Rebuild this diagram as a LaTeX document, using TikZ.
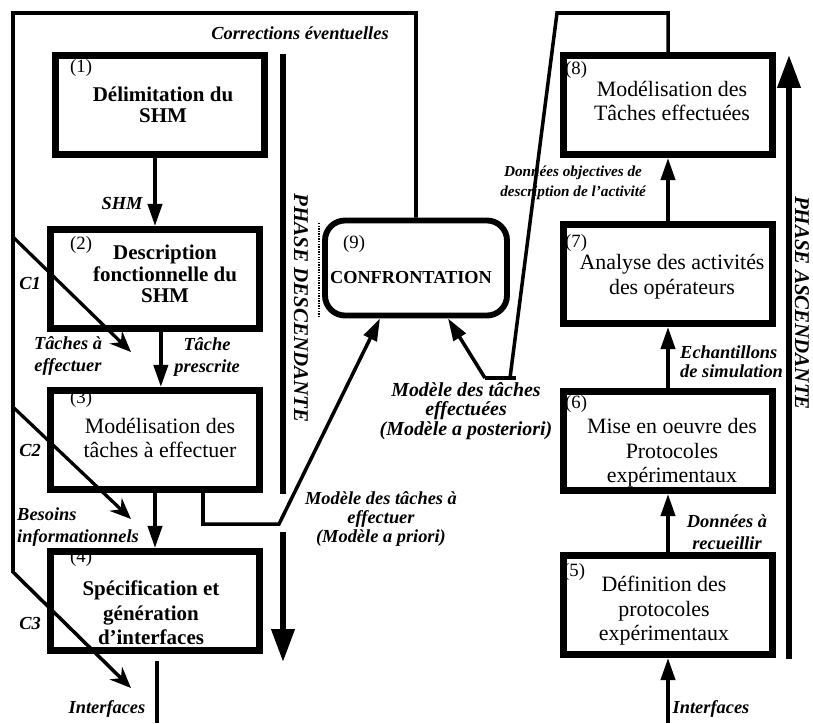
\documentclass[tikz,border=0pt]{standalone}
\usepackage{fontspec}
\setmainfont{Liberation Serif}
\usetikzlibrary{arrows.meta}
\usetikzlibrary{calc}

\begin{document}
\begin{tikzpicture}[x=0.03cm, y=-0.03cm, line join=miter,
    box/.style={draw, line width=5.5pt, minimum width=6.27cm, minimum height=2.98cm, inner sep=0pt},
    conf/.style={draw, line width=5pt, rounded corners=0.6cm, minimum width=5.46cm, minimum height=2.85cm, inner sep=0pt},
    num/.style={anchor=west, inner sep=0pt, font=\fontsize{16}{16}\selectfont},
    boxrm/.style={align=center, inner sep=0pt, font=\fontsize{18.7}{21}\selectfont},
    boxbf/.style={align=center, inner sep=0pt, font=\fontsize{17.9}{18.5}\selectfont\bfseries},
    lbl/.style={align=center, inner sep=0pt, font=\fontsize{15.7}{18.5}\selectfont\bfseries\itshape},
    phase/.style={rotate=-90, inner sep=0pt, font=\fontsize{17.9}{18}\selectfont\bfseries\itshape},
    flow/.style={line width=3.4pt, -{Triangle[length=19pt,width=12pt]}},
    fb/.style={line width=3pt},
    carrow/.style={line width=2.8pt, -{Stealth[length=18pt,width=15pt,inset=6pt]}},
    bar/.style={line width=5pt}]

    %\draw [help lines] (0,0) grid (813,723);
    \useasboundingbox (0,0) rectangle (813,723);

    % boites
    \path   (160,105) node (b1) [box] {}
            (155,279) node (b2) [box] {}
            (155,440) node (b3) [box] {}
            (155,601) node (b4) [box] {}
            (668,605) node (b5) [box] {}
            (668,441) node (b6) [box] {}
            (668,274) node (b7) [box] {}
            (668,105) node (b8) [box] {}
            (416,268) node (b9) [conf] {};

    % numeros
    \path   (70,68)  node (n1) [num] {(1)}
            (70,245) node (n2) [num] {(2)}
            (70,399) node (n3) [num] {(3)}
            (70,558) node (n4) [num] {(4)}
            (563,572) node (n5) [num] {(5)}
            (565,404) node (n6) [num] {(6)}
            (565,243) node (n7) [num] {(7)}
            (565,70) node (n8) [num] {(8)}
            (343,244) node (n9) [num] {(9)};

    % textes des boites
    \path   (163,105) node (t1) [boxbf, font=\fontsize{17.9}{17.5}\selectfont\bfseries] {Délimitation du\\SHM}
            (165,274) node (t2) [boxbf] {Description\\fonctionnelle du\\SHM}
            (160,438) node (t3) [boxrm] {Modélisation des\\tâches à effectuer}
            (151,613) node (t4) [boxbf, font=\fontsize{17.9}{21}\selectfont\bfseries] {Spécification et\\génération\\d'interfaces}
            (664,611) node (t5) [boxrm] {Définition des\\protocoles\\expérimentaux}
            (672,453) node (t6) [boxrm] {Mise en oeuvre des\\Protocoles\\expérimentaux}
            (672,277) node (t7) [boxrm] {Analyse des activités\\des opérateurs}
            (672,101) node (t8) [boxrm] {Modélisation des\\Tâches effectuées}
            (411,278) node (t9) [inner sep=0pt, font=\fontsize{15.6}{16}\selectfont\bfseries] {CONFRONTATION};

    % phases
    \node (pd) [phase] at (301,308) {PHASE DESCENDANTE};
    \node (pa) [phase] at (802,303) {PHASE ASCENDANTE};
    \coordinate (pd1) at (283,54);
    \coordinate (pd2) at (283,494);
    \coordinate (pd3) at (283,532);
    \coordinate (pd4) at (283,662);
    \coordinate (pa1) at (789,659);
    \coordinate (pa2) at (789,55);
    \draw[bar] (pd1) -- (pd2);
    \draw[bar, -{Triangle[length=28pt,width=19pt]}] (pd3) -- (pd4);
    \draw[bar, -{Triangle[length=28pt,width=19pt]}] (pa1) -- (pa2);
    \draw[densely dotted, line width=1.2pt] (319,223) -- (319,317);

    % fleches entre boites
    \coordinate (if1) at (157,723);
    \coordinate (if2) at (668,723);
    \draw[flow] (b2.north |- b1.south) -- (b2.north);
    \draw[flow] ([xshift=5pt]b2.south) -- ([xshift=5pt]b3.north);
    \draw[flow] (b3.south) -- (b4.north);
    \draw[line width=3pt] ([yshift=-6pt]b4.south -| if1) -- (if1);
    \draw[flow] (if2) -- (b5.south);
    \draw[flow] (b5.north) -- (b6.south);
    \draw[flow] (b6.north) -- (b7.south);
    \draw[flow] (b7.north) -- (b8.south);

    % boucle des corrections
    \coordinate (k1) at (13,13);
    \coordinate (k2) at (13,572);
    \coordinate (k3) at (13,237);
    \coordinate (k4) at (13,407);
    \coordinate (c1) at (131,352);
    \coordinate (c2) at (131,519);
    \coordinate (c3) at (131,688);
    \draw[fb, -{Stealth[length=18pt,width=15pt,inset=6pt]}] (b9.north) |- (k1) -- (k2) -- (c3);
    \draw[carrow] (k3) -- (c1);
    \draw[carrow] (k4) -- (c2);

    % modeles
    \coordinate (m1) at (279,524);
    \draw[fb, -{Triangle[length=19pt,width=12pt]}] ($(b3.south)+(48,0)$) |- (m1) -- ($(b9.south)+(-36,0)$);
    \coordinate (p1) at (557,13);
    \coordinate (p2) at (510,378);
    \coordinate (p3) at (485,378);
    \coordinate (p4) at (516,378);
    \draw[fb] (b8.north) |- (p1) -- (p2);
    \draw[fb] (p3) -- (p4);
    \draw[fb, -{Triangle[length=19pt,width=12pt]}] (p3) -- ($(b9.south)+(32,0)$);

    % etiquettes
    \path   (300,33)  node (l1) [lbl] {Corrections éventuelles}
            (122,203) node (l2) [lbl] {SHM}
            (68,356)  node (l3) [lbl] {Tâches à\\effectuer}
            (207,357) node (l4) [lbl] {Tâche\\prescrite}
            (17,527)  node (l5) [lbl, anchor=west, align=left] {Besoins\\informationnels}
            (107,709) node (l6) [lbl] {Interfaces}
            (711,709) node (l7) [lbl] {Interfaces}
            (727,532) node (l8) [lbl] {Données à\\recueillir}
            (680,362) node (l9) [lbl, anchor=west, align=left, font=\fontsize{15.7}{16}\selectfont\bfseries\itshape] {Echantillons\\de simulation}
            (573,183) node (l10) [lbl, font=\fontsize{13}{17}\selectfont\bfseries\itshape] {Données objectives de\\description de l'activité}
            (466,411) node (l11) [lbl, font=\fontsize{17}{16.5}\selectfont\bfseries\itshape] {Modèle des tâches\\effectuées\\(Modèle a posteriori)}
            (381,519) node (l12) [lbl, font=\fontsize{15.7}{16.5}\selectfont\bfseries\itshape] {Modèle des tâches à\\effectuer\\(Modèle a priori)}
            (30,283)  node (lc1) [lbl] {C1}
            (30,450)  node (lc2) [lbl] {C2}
            (30,623)  node (lc3) [lbl] {C3};

\end{tikzpicture}
\end{document}
